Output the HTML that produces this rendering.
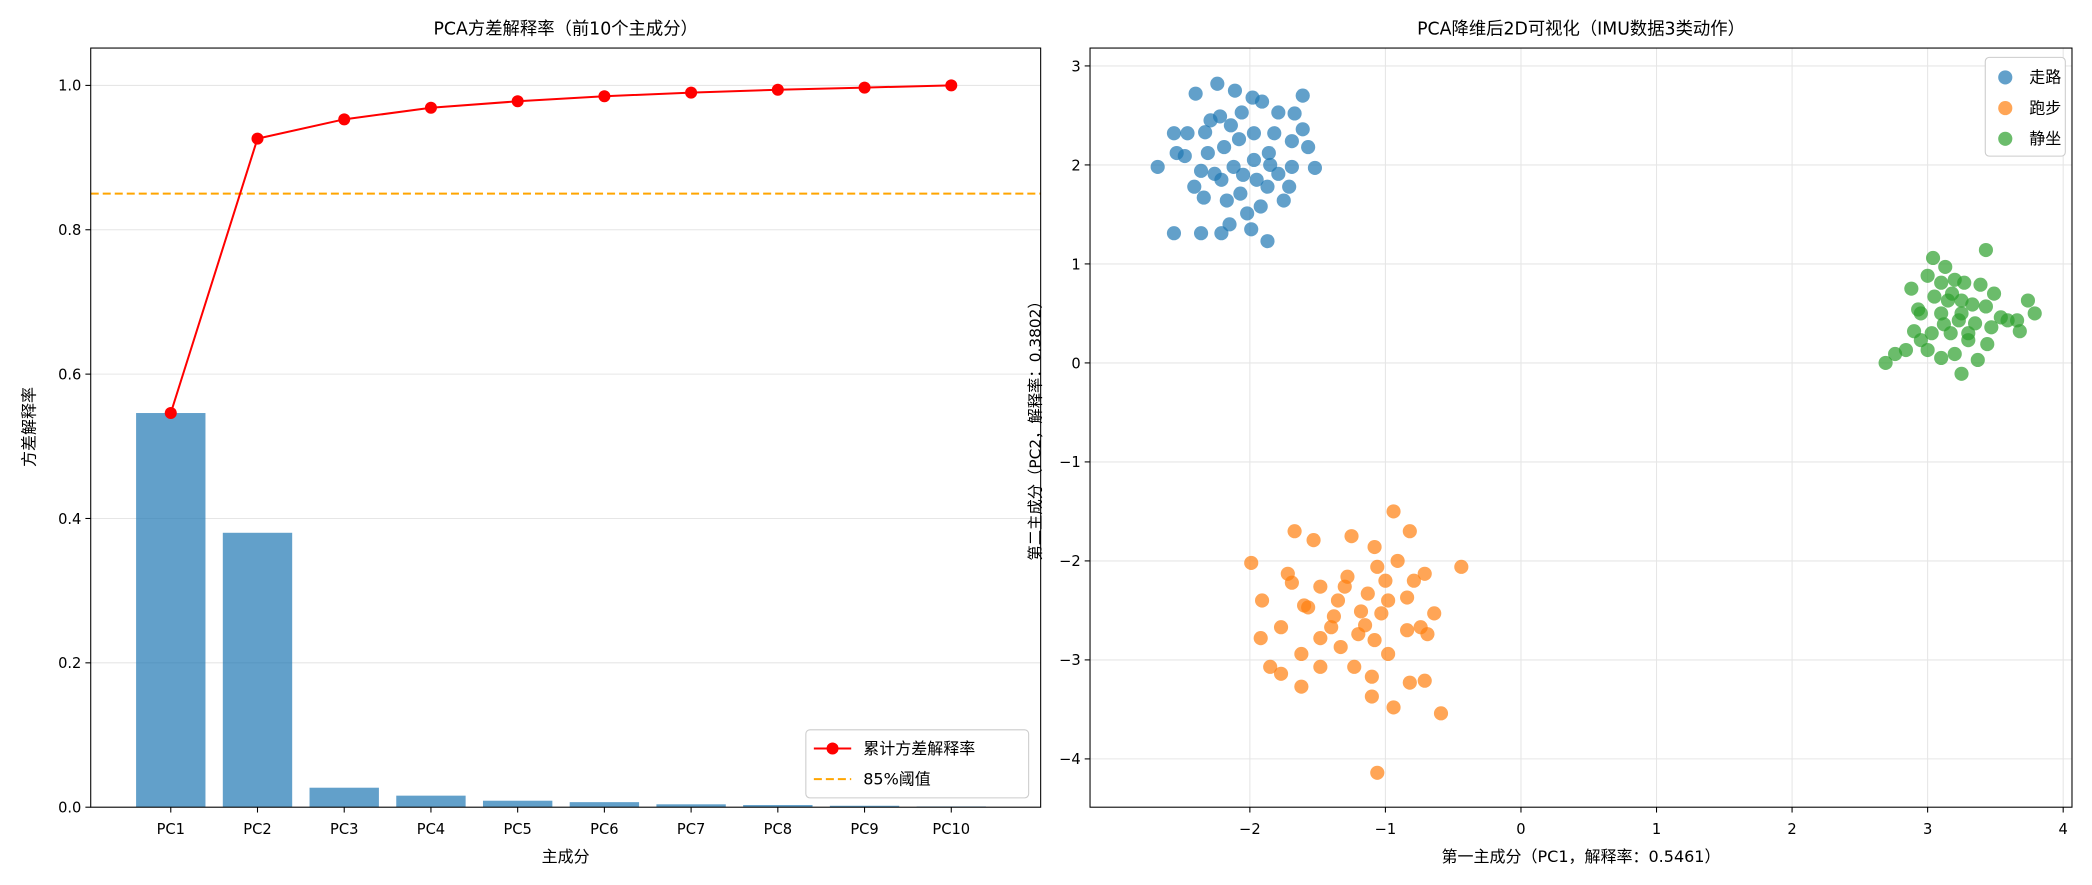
<!DOCTYPE html>
<html><head><meta charset="utf-8"><style>
html,body{margin:0;padding:0;background:#fff}
svg{display:block;font-family:"DejaVu Sans","WenQuanYi Zen Hei","Noto Sans CJK SC",sans-serif}
</style></head><body>
<svg id="chart" width="2092" height="885" viewBox="0 0 1568 663.3" xmlns="http://www.w3.org/2000/svg">
<rect width="1568" height="664" fill="#fff"/>
<g id="left"></g>
<g id="right"></g>
</svg>
<script>
const pcLabels=["PC1","PC2","PC3","PC4","PC5","PC6","PC7","PC8","PC9","PC10"];
const varRatio=[0.5461,0.3802,0.027,0.016,0.009,0.007,0.004,0.003,0.002,0.001];
const cumRatio=[0.5461,0.9263,0.953,0.969,0.978,0.985,0.990,0.994,0.997,1.0];
const threshold=0.85;
const leftYTicks=[0,0.2,0.4,0.6,0.8,1.0];
const walkPts=[[-2.24,2.82],[-2.40,2.72],[-2.11,2.75],[-1.98,2.68],[-1.61,2.70],[-1.79,2.53],[-1.91,2.64],[-2.56,2.32],[-2.68,1.98],[-2.48,2.09],[-2.46,2.32],[-2.33,2.33],[-2.22,2.49],[-2.06,2.53],[-2.19,2.18],[-2.08,2.26],[-2.31,2.12],[-2.26,1.91],[-2.41,1.78],[-2.34,1.67],[-2.21,1.85],[-2.07,1.71],[-1.95,1.85],[-1.79,1.91],[-1.69,1.98],[-1.57,2.18],[-1.61,2.36],[-1.69,2.24],[-1.86,2.12],[-1.92,1.58],[-2.02,1.51],[-2.15,1.40],[-2.21,1.31],[-2.36,1.31],[-2.56,1.31],[-1.87,1.23],[-1.99,1.35],[-1.52,1.97],[-1.75,1.64],[-2.12,1.98],[-1.97,2.32],[-1.82,2.32],[-1.87,1.78],[-1.71,1.78],[-1.67,2.52],[-2.54,2.12],[-2.17,1.64],[-2.36,1.94],[-1.97,2.05],[-2.14,2.40],[-2.29,2.45],[-1.85,2.00],[-2.05,1.90]];
const runPts=[[-1.99,-2.02],[-0.94,-1.50],[-1.67,-1.70],[-1.53,-1.79],[-1.25,-1.75],[-1.08,-1.86],[-0.82,-1.70],[-0.44,-2.06],[-1.72,-2.13],[-1.69,-2.22],[-1.48,-2.26],[-1.28,-2.16],[-1.06,-2.06],[-0.91,-2.00],[-0.79,-2.20],[-0.71,-2.13],[-1.91,-2.40],[-1.57,-2.47],[-1.38,-2.56],[-1.18,-2.51],[-0.98,-2.40],[-0.84,-2.37],[-0.64,-2.53],[-0.74,-2.67],[-1.92,-2.78],[-1.77,-2.67],[-1.62,-2.94],[-1.48,-2.78],[-1.33,-2.87],[-1.20,-2.74],[-1.08,-2.80],[-0.98,-2.94],[-0.84,-2.70],[-0.69,-2.74],[-1.85,-3.07],[-1.77,-3.14],[-1.62,-3.27],[-1.48,-3.07],[-1.23,-3.07],[-1.10,-3.17],[-1.10,-3.37],[-0.94,-3.48],[-0.82,-3.23],[-0.71,-3.21],[-0.59,-3.54],[-1.06,-4.14],[-1.03,-2.53],[-1.13,-2.33],[-1.30,-2.26],[-1.40,-2.67],[-1.15,-2.65],[-1.00,-2.20],[-1.35,-2.40],[-1.60,-2.45]];
const sitPts=[[3.04,1.06],[3.43,1.14],[2.69,0.00],[2.76,0.09],[2.84,0.13],[2.95,0.23],[2.93,0.54],[2.88,0.75],[3.00,0.88],[3.13,0.97],[3.27,0.81],[3.39,0.79],[3.49,0.70],[3.74,0.63],[3.79,0.50],[3.66,0.43],[3.54,0.46],[3.35,0.40],[3.23,0.43],[3.10,0.50],[3.15,0.63],[3.25,0.63],[3.05,0.67],[3.30,0.23],[3.44,0.19],[3.20,0.09],[3.25,-0.11],[3.37,0.03],[3.10,0.05],[3.00,0.13],[3.03,0.30],[3.17,0.30],[3.47,0.36],[3.68,0.32],[2.90,0.32],[3.10,0.81],[3.20,0.84],[3.33,0.59],[3.43,0.57],[2.95,0.50],[3.59,0.43],[3.25,0.50],[3.12,0.39],[3.18,0.70],[3.30,0.30]];
const rightXTicks=[-2,-1,0,1,2,3,4];
const rightYTicks=[3,2,1,0,-1,-2,-3,-4];

const NS="http://www.w3.org/2000/svg";
function mk(parent,tag,attrs,text){const e=document.createElementNS(NS,tag);for(const k in attrs)e.setAttribute(k,attrs[k]);if(text!==undefined)e.textContent=text;parent.appendChild(e);return e;}

// ---- left chart
const L=document.getElementById('left');
const lx0=68,lx1=780,ly0=36,ly1=605;
const lxs=i=>128+i*65;
const lys=v=>605-v*541;
leftYTicks.forEach(t=>{
  const g=mk(L,'line',{x1:lx0,x2:lx1,y1:lys(t),y2:lys(t),stroke:'#e6e6e6','stroke-width':0.8});
  
  mk(L,'line',{x1:lx0-4,x2:lx0,y1:lys(t),y2:lys(t),stroke:'#000','stroke-width':0.8});
  const tx=mk(L,'text',{x:lx0-7,y:lys(t)+4,'text-anchor':'end','font-size':11},t.toFixed(1));
  
});
varRatio.forEach((v,i)=>{
  const r=mk(L,'rect',{x:lxs(i)-26,y:lys(v),width:52,height:lys(0)-lys(v),fill:'#1f77b4','fill-opacity':0.7});
  
});
pcLabels.forEach((p,i)=>{
  mk(L,'line',{x1:lxs(i),x2:lxs(i),y1:ly1,y2:ly1+4,stroke:'#000','stroke-width':0.8});
  const tx=mk(L,'text',{x:lxs(i),y:ly1+20,'text-anchor':'middle','font-size':11},p);
  
});
const th=mk(L,'line',{x1:lx0,x2:lx1,y1:lys(threshold),y2:lys(threshold),stroke:'#ffa500','stroke-width':1.5,'stroke-dasharray':'6 3'});

const cl=mk(L,'polyline',{points:cumRatio.map((v,i)=>lxs(i)+','+lys(v)).join(' '),fill:'none',stroke:'#ff0000','stroke-width':1.5});

cumRatio.forEach((v,i)=>{
  const c=mk(L,'circle',{cx:lxs(i),cy:lys(v),r:4.5,fill:'#ff0000'});
  
});
mk(L,'rect',{x:lx0,y:ly0,width:lx1-lx0,height:ly1-ly0,fill:'none',stroke:'#000','stroke-width':0.8});
let t=mk(L,'text',{x:(lx0+lx1)/2,y:26,'text-anchor':'middle','font-size':13},'PCA方差解释率（前10个主成分）');

t=mk(L,'text',{x:(lx0+lx1)/2,y:646,'text-anchor':'middle','font-size':12},'主成分');

t=mk(L,'text',{x:0,y:0,'text-anchor':'middle','font-size':12,transform:'translate(26,320) rotate(-90)'},'方差解释率');

// legend
const lg=mk(L,'g',{});

mk(lg,'rect',{x:604,y:547,width:167,height:51,rx:3,fill:'#fff',stroke:'#ccc','stroke-width':0.8});
mk(lg,'line',{x1:610,x2:638,y1:561,y2:561,stroke:'#ff0000','stroke-width':1.5});
mk(lg,'circle',{cx:624,cy:561,r:4.5,fill:'#ff0000'});
t=mk(lg,'text',{x:647,y:565,'font-size':12},'累计方差解释率');

mk(lg,'line',{x1:610,x2:638,y1:584,y2:584,stroke:'#ffa500','stroke-width':1.5,'stroke-dasharray':'6 3'});
t=mk(lg,'text',{x:647,y:588,'font-size':12},'85%阈值');


// ---- right chart
const R=document.getElementById('right');
const rx0=817,rx1=1553,ry0=36,ry1=605;
const rxs=v=>1140+v*101.6;
const rys=v=>272-v*74.2;
rightXTicks.forEach(v=>{
  const g=mk(R,'line',{x1:rxs(v),x2:rxs(v),y1:ry0,y2:ry1,stroke:'#e6e6e6','stroke-width':0.8});
  
  mk(R,'line',{x1:rxs(v),x2:rxs(v),y1:ry1,y2:ry1+4,stroke:'#000','stroke-width':0.8});
  const tx=mk(R,'text',{x:rxs(v),y:ry1+20,'text-anchor':'middle','font-size':11},v<0?'−'+(-v):String(v));
  
});
rightYTicks.forEach(v=>{
  const g=mk(R,'line',{x1:rx0,x2:rx1,y1:rys(v),y2:rys(v),stroke:'#e6e6e6','stroke-width':0.8});
  
  mk(R,'line',{x1:rx0-4,x2:rx0,y1:rys(v),y2:rys(v),stroke:'#000','stroke-width':0.8});
  const tx=mk(R,'text',{x:rx0-7,y:rys(v)+4,'text-anchor':'end','font-size':11},v<0?'−'+(-v):String(v));
  
});
function series(pts,color,name){
  const g=mk(R,'g',{});
  
  pts.forEach(p=>{
    const c=mk(g,'circle',{cx:rxs(p[0]),cy:rys(p[1]),r:5.3,fill:color,'fill-opacity':0.7});
    
  });
}
series(walkPts,'#1f77b4','walk');
series(runPts,'#ff7f0e','run');
series(sitPts,'#2ca02c','sit');
mk(R,'rect',{x:rx0,y:ry0,width:rx1-rx0,height:ry1-ry0,fill:'none',stroke:'#000','stroke-width':0.8});
t=mk(R,'text',{x:(rx0+rx1)/2,y:26,'text-anchor':'middle','font-size':13},'PCA降维后2D可视化（IMU数据3类动作）');

t=mk(R,'text',{x:(rx0+rx1)/2,y:646,'text-anchor':'middle','font-size':12},'第一主成分（PC1，解释率：0.5461）');

t=mk(R,'text',{x:0,y:0,'text-anchor':'middle','font-size':11.5,transform:'translate(780,320) rotate(-90)'},'第二主成分（PC2，解释率：0.3802）');

const rg=mk(R,'g',{});

mk(rg,'rect',{x:1488,y:43,width:60,height:74,rx:3,fill:'#fff',stroke:'#ccc','stroke-width':0.8});
[['走路','#1f77b4'],['跑步','#ff7f0e'],['静坐','#2ca02c']].forEach((e,i)=>{
  mk(rg,'circle',{cx:1503,cy:58+i*23,r:5.3,fill:e[1],'fill-opacity':0.7});
  const tx=mk(rg,'text',{x:1521,y:62+i*23,'font-size':12},e[0]);
  
});
</script>
</body></html>
